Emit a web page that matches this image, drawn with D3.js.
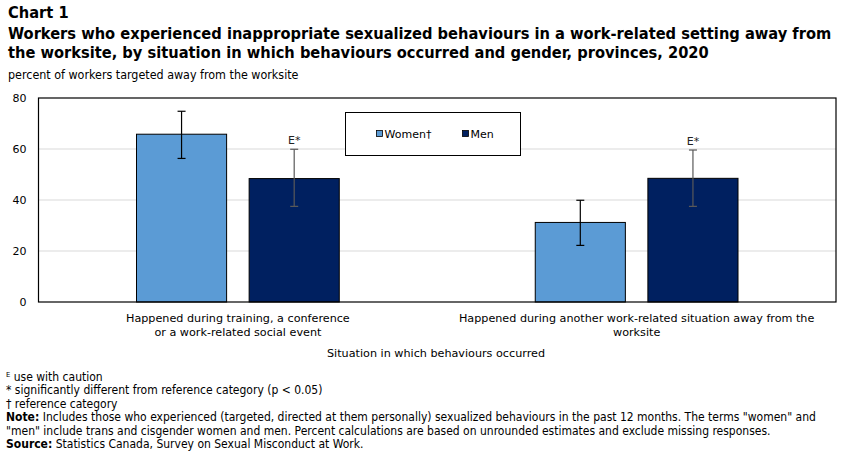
<!doctype html>
<html>
<head>
<meta charset="UTF-8">
<script src="https://d3js.org/d3.v7.min.js"></script>
<style>
  body { margin: 0; background: #fff; }
  svg text { fill: #000; }
  .cond { font-family: "DejaVu Sans Condensed", "DejaVu Sans", sans-serif; }
  .verd { font-family: "DejaVu Sans", Verdana, sans-serif; }
</style>
</head>
<body>
<svg width="851" height="455"></svg>
<script>
// data
const categories = ["Happened during training, a conference|or a work-related social event",
                    "Happened during another work-related situation away from the|worksite"];
const series = ["Women\u2020", "Men"];
const women = [65.8, 31.2];
const womenLow = [56.3, 22.2];
const womenHigh = [74.8, 39.9];
const men = [48.4, 48.5];
const menLow = [37.5, 37.5];
const menHigh = [59.9, 59.6];
const menFlags = ["E*", "E*"];
const yTicks = [0, 20, 40, 60, 80];
const colors = ["#5b9bd5", "#002060"];

const svg = d3.select("svg");
const margin = {top: 98, left: 38.5, right: 15, bottom: 153};
const width = 851 - margin.left - margin.right;
const height = 455 - margin.top - margin.bottom;

// titles
svg.append("text").attr("class", "cond").attr("x", 8).attr("y", 18)
   .style("font-size", "16.3px").style("font-weight", "bold").text("Chart 1");
svg.append("text").attr("class", "cond").attr("x", 8).attr("y", 39)
   .style("font-size", "16.3px").style("font-weight", "bold")
   .text("Workers who experienced inappropriate sexualized behaviours in a work-related setting away from");
svg.append("text").attr("class", "cond").attr("x", 8).attr("y", 58)
   .style("font-size", "16.3px").style("font-weight", "bold")
   .text("the worksite, by situation in which behaviours occurred and gender, provinces, 2020");
svg.append("text").attr("class", "cond").attr("x", 8).attr("y", 79)
   .style("font-size", "12.4px").text("percent of workers targeted away from the worksite");

var g = svg.append("g").attr("transform", "translate(" + margin.left + "," + margin.top + ")");

var x0 = d3.scaleBand().domain(d3.range(categories.length)).range([0, width]).paddingInner(0).paddingOuter(0);
var x1 = d3.scaleBand().domain([0, 1]).range([98, x0.bandwidth() - 98]).paddingInner(0.2);
var y = d3.scaleLinear().domain([0, 80]).range([height, 0]);

// gridlines
g.append("g").selectAll("line").data(yTicks.filter(d => d > 0 && d < 80)).enter().append("line")
  .attr("x1", 0).attr("x2", width).attr("y1", d => y(d)).attr("y2", d => y(d))
  .attr("stroke", "#d9d9d9").attr("stroke-width", 1);

// y axis labels
var yAxis = g.append("g").attr("class", "verd")
  .call(d3.axisLeft(y).tickValues(yTicks).tickSize(0).tickPadding(12));
yAxis.select(".domain").remove();
yAxis.selectAll("text").style("font-size", "11px").attr("fill", "#000");

// bars
var rows = categories.map((c, i) => ({i: i, vals: [
  {s: 0, v: women[i], lo: womenLow[i], hi: womenHigh[i], flag: ""},
  {s: 1, v: men[i], lo: menLow[i], hi: menHigh[i], flag: menFlags[i]}]}));

var grp = g.selectAll(".grp").data(rows).enter().append("g")
  .attr("transform", d => "translate(" + x0(d.i) + ",0)");

grp.selectAll("rect").data(d => d.vals).enter().append("rect")
  .attr("x", d => x1(d.s)).attr("width", x1.bandwidth())
  .attr("y", d => y(d.v)).attr("height", d => y(0) - y(d.v))
  .attr("fill", d => colors[d.s]).attr("stroke", "#000").attr("stroke-width", 1);

var eb = grp.selectAll(".eb").data(d => d.vals).enter().append("g")
  .attr("stroke", d => d.s === 0 ? "#000" : "#595959").attr("stroke-width", 1.2);
eb.append("line").attr("x1", d => x1(d.s) + x1.bandwidth() / 2).attr("x2", d => x1(d.s) + x1.bandwidth() / 2)
  .attr("y1", d => y(d.lo)).attr("y2", d => y(d.hi));
eb.append("line").attr("x1", d => x1(d.s) + x1.bandwidth() / 2 - 4).attr("x2", d => x1(d.s) + x1.bandwidth() / 2 + 4)
  .attr("y1", d => y(d.lo)).attr("y2", d => y(d.lo));
eb.append("line").attr("x1", d => x1(d.s) + x1.bandwidth() / 2 - 4).attr("x2", d => x1(d.s) + x1.bandwidth() / 2 + 4)
  .attr("y1", d => y(d.hi)).attr("y2", d => y(d.hi));

grp.selectAll(".flag").data(d => d.vals.filter(v => v.flag)).enter().append("text")
  .attr("class", "verd").attr("x", d => x1(d.s) + x1.bandwidth() / 2).attr("y", d => y(d.hi) - 5)
  .attr("text-anchor", "middle").style("font-size", "11px").style("fill", "#222").text(d => d.flag);

// plot border
g.append("rect").attr("width", width).attr("height", height)
  .attr("fill", "none").attr("stroke", "#000").attr("stroke-width", 1.2);

// x labels
g.selectAll(".xl").data(categories).enter().append("text").attr("class", "verd")
  .attr("text-anchor", "middle").style("font-size", "11.2px")
  .attr("transform", (d, i) => "translate(" + (x0(i) + x0.bandwidth() / 2) + "," + (height + 20) + ")")
  .selectAll("tspan").data(d => d.split("|")).enter().append("tspan")
  .attr("x", 0).attr("dy", (d, i) => i === 0 ? 0 : 13.5).text(d => d);

svg.append("text").attr("class", "verd").attr("x", 436).attr("y", 357)
  .attr("text-anchor", "middle").style("font-size", "11.2px").text("Situation in which behaviours occurred");

// legend
var leg = svg.append("g").attr("transform", "translate(345.5,112.5)");
leg.append("rect").attr("width", 175).attr("height", 43).attr("fill", "#fff").attr("stroke", "#000");
var li = leg.selectAll(".li").data(series).enter().append("g")
  .attr("transform", (d, i) => "translate(" + (i === 0 ? 31 : 117) + ",18)");
li.append("rect").attr("width", 6).attr("height", 6).attr("fill", (d, i) => colors[i])
  .attr("stroke", "#000").attr("stroke-width", 0.8);
li.append("text").attr("class", "verd").attr("x", 8).attr("y", 7).style("font-size", "11px").text(d => d);

// notes
var notes = [
  [["", "\u1D31 use with caution"]],
  [["", "* significantly different from reference category (p < 0.05)"]],
  [["", "\u2020 reference category"]],
  [["Note:", " Includes those who experienced (targeted, directed at them personally) sexualized behaviours in the past 12 months. The terms \"women\" and"]],
  [["", "\"men\" include trans and cisgender women and men. Percent calculations are based on unrounded estimates and exclude missing responses."]],
  [["Source:", " Statistics Canada, Survey on Sexual Misconduct at Work."]]
];
notes.forEach(function(n, i) {
  var t = svg.append("text").attr("class", "cond").attr("x", 6).attr("y", 381 + i * 13.4).style("font-size", "12px");
  n.forEach(function(p) {
    if (p[0]) t.append("tspan").style("font-weight", "bold").text(p[0]);
    t.append("tspan").text(p[1]);
  });
});
</script>
</body>
</html>
